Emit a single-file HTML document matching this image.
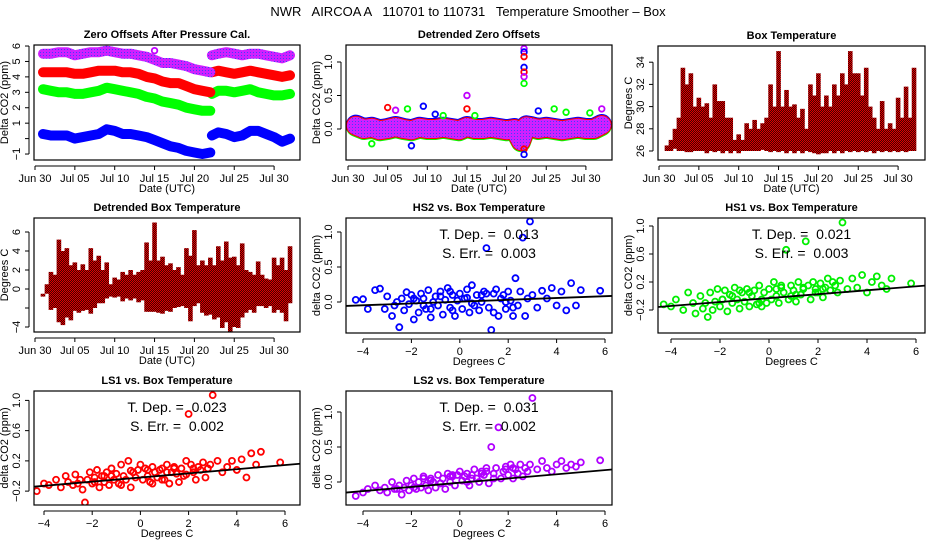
<!DOCTYPE html>
<html><head><meta charset="utf-8"><style>
html,body{margin:0;padding:0;background:#fff}
svg{display:block;font-family:"Liberation Sans",sans-serif}
text{white-space:pre}
</style></head><body>
<svg id="c" width="936" height="540" viewBox="0 0 936 540">
<defs>
<pattern id="redDots" width="2" height="2" patternUnits="userSpaceOnUse"><rect width="2" height="2" fill="#e00000"/><rect x="1" y="0" width="1" height="1" fill="#400"/><rect x="0" y="1" width="1" height="1" fill="#400"/></pattern>
<pattern id="purpDots" width="3" height="3" patternUnits="userSpaceOnUse"><rect width="3" height="3" fill="#d020ff"/><rect x="1" y="1" width="1" height="1" fill="#4040ff"/></pattern>
</defs>
<text x="468" y="16" font-size="13" text-anchor="middle" xml:space="preserve">NWR   AIRCOA A   110701 to 110731   Temperature Smoother – Box</text>
</svg>
<script>
// ---------- data ----------
const dayLabels = ["Jun 30","Jul 05","Jul 10","Jul 15","Jul 20","Jul 25","Jul 30"];
const dayTicks = [0,5,10,15,20,25,30];
const daysA = [1,2,3,4,5,6,7,8,9,10,11,12,13,14,15,16,17,18,19,20,21,22];
const daysB = [22.2,23,24,25,26,27,28,29,30,31,32];
const purpleA = [5.5,5.5,5.6,5.6,5.4,5.5,5.6,5.6,5.7,5.6,5.5,5.5,5.4,5.3,5.1,4.9,4.9,4.8,4.7,4.5,4.4,4.3];
const purpleB = [5.4,5.5,5.6,5.5,5.4,5.5,5.5,5.4,5.3,5.2,5.4];
const redA = [4.3,4.3,4.3,4.3,4.2,4.2,4.3,4.4,4.4,4.4,4.3,4.3,4.2,4.0,3.9,3.7,3.6,3.6,3.4,3.2,3.1,3.0];
const redB = [4.3,4.4,4.3,4.2,4.3,4.4,4.3,4.2,4.1,4.0,4.1];
const greenA = [3.2,3.1,3.0,3.0,2.9,2.9,3.0,3.1,3.3,3.2,3.1,3.0,2.9,2.7,2.6,2.4,2.3,2.2,2.0,1.9,1.8,1.8];
const greenB = [2.9,3.1,3.1,3.0,3.1,3.2,3.0,2.9,2.8,2.8,2.9];
const blueA = [0.3,0.2,0.2,0.2,0.0,0.1,0.2,0.3,0.6,0.5,0.3,0.3,0.2,0.1,-0.1,-0.3,-0.5,-0.6,-0.8,-0.9,-1.0,-0.9];
const blueB = [0.2,0.4,0.3,0.1,0.2,0.5,0.5,0.3,0.1,-0.2,0.0];

const detDays = [1,2,3,4,5,6,7,8,9,10,11,12,13,14,15,16,17,18,19,20,21,21.8,22.5,23,24,25,26,27,28,29,30,31,32];
const detPurple = [0.05,0.0,0.02,-0.02,0.0,0.03,0.0,-0.02,0.02,0.0,0.0,0.02,0.0,-0.02,0.03,0.0,0.0,0.02,0.0,-0.02,0.0,-0.18,0.04,0.03,0.0,0.02,0.0,-0.02,0.0,0.02,0.0,0.0,0.06];
const spikeVals = [1.2,1.15,1.08,0.92,0.85,0.78,0.68,-0.3,-0.38];
const spikeCols = ["#c000ff","#0000ff","#ff0000","#0000ff","#ff0000","#c000ff","#00ff00","#ff0000","#0000ff"];
const outDays = [5,6,7.5,9.5,11,12,15,15,16,24,26,27.5,30.5,32,3,8];
const outVals = [0.32,0.28,0.3,0.34,0.22,0.2,0.5,0.3,0.2,0.27,0.3,0.25,0.24,0.3,-0.22,-0.25];
const outCols = ["#ff0000","#c000ff","#00ff00","#0000ff","#0000ff","#00ff00","#c000ff","#ff0000","#00ff00","#0000ff","#00ff00","#00ff00","#00ff00","#c000ff","#00ff00","#0000ff"];

const halfDays = [1,1.5,2,2.5,3,3.5,4,4.5,5,5.5,6,6.5,7,7.5,8,8.5,9,9.5,10,10.5,11,11.5,12,12.5,13,13.5,14,14.5,15,15.5,16,16.5,17,17.5,18,18.5,19,19.5,20,20.5,21,21.5,22,22.5,23,23.5,24,24.5,25,25.5,26,26.5,27,27.5,28,28.5,29,29.5,30,30.5,31,31.5,32];
const boxMax = [26.5,27,28,29,33.5,32,33,30,30.8,30,30.3,29,32,30.5,30.5,29,29,27,27.5,27,28.5,28,28.8,28,28.5,29,32,30,35,30,31.5,30,30.2,29,29.8,28,32,31,33,30,31,30,32,31,33,32,35,33,33,31,33.5,30,29,28,30.5,28,28.5,28,30.8,29,31.8,29,33.5];
const boxMin = [26,26,26.2,26,26,25.9,25.9,26,26,26,25.8,26,25.9,26,25.8,26,25.8,26,25.8,26,26,26,26,26,26.1,26,25.9,26,25.9,26,25.8,26,25.8,26,25.8,26,25.9,25.8,25.7,25.8,25.8,26,25.8,26,25.8,26,25.9,26,25.9,26,25.9,26,25.8,26,25.9,26,25.9,26,25.9,26,25.9,26,26];
const detMax = [-0.5,0.5,1.8,1.5,5.2,4,4.3,2.5,2.8,2,2.6,2,4.3,3,3.5,2,2.8,0.5,1.2,1,1.8,1.5,2,1.5,1.8,2,4.9,3,7,3,3.4,2.5,2.7,2,2.3,1.5,4.3,3.5,6.2,2.5,3,2.5,3.3,2.5,4.5,3,5,3.3,3.4,2.5,4.8,2,1.8,1.5,2.9,1.5,1.1,1,3.3,2.5,3.3,2,4.5];
const detMin = [-0.8,-0.5,-2.2,-2,-3.5,-3.8,-3,-3.3,-2.3,-2.5,-2.3,-2.2,-2.6,-2,-1.5,-1.5,-1,-0.8,-0.9,-0.8,-1.3,-1,-1.2,-1,-1.4,-1.2,-2.4,-2.4,-2.4,-2.5,-2.6,-2.3,-2.4,-2,-1.9,-1.8,-2,-3.4,-1.8,-1.5,-2.5,-2.8,-2.7,-3.2,-3,-4.1,-3.5,-4.5,-4,-4.1,-3,-2.5,-2.2,-2.5,-1.8,-1.8,-2,-1.8,-2.5,-2.2,-2.5,-3.4,-1.5];

const tempX = [-4.3,-4.0,-3.8,-3.5,-3.3,-3.1,-3.0,-2.8,-2.7,-2.5,-2.4,-2.3,-2.2,-2.1,-2.0,-1.9,-1.8,-1.7,-1.6,-1.5,-1.4,-1.3,-1.2,-1.1,-1.0,-0.9,-0.8,-0.7,-0.6,-0.5,-0.4,-0.3,-0.2,-0.1,0.0,0.1,0.2,0.3,0.4,0.5,0.6,0.7,0.8,0.9,1.0,1.1,1.2,1.3,1.4,1.5,1.6,1.7,1.8,1.9,2.0,2.1,2.2,2.3,2.4,2.5,2.6,2.7,2.8,2.9,3.0,3.2,3.4,3.6,3.8,4.0,4.2,4.4,4.6,4.8,5.0,5.8,-2.6,-1.5,-0.8,-0.3,0.3,0.9,1.4,1.9,-1.9,-1.2,-0.4,0.5,1.1,2.2];
const hs2Y = [0.03,0.04,-0.1,0.17,0.19,-0.1,0.08,-0.2,-0.05,-0.36,0.05,-0.12,0.14,-0.03,0.1,-0.25,0.02,-0.15,0.12,0.05,-0.1,0.17,-0.22,0.0,0.08,-0.05,0.15,-0.18,0.03,0.2,-0.08,0.1,-0.2,0.02,0.12,-0.1,0.05,0.18,-0.15,0.24,-0.05,0.1,-0.12,0.0,0.15,0.77,-0.08,-0.4,0.12,0.18,-0.2,0.05,0.1,-0.1,0.15,0.02,-0.2,0.34,-0.05,0.15,0.92,-0.2,0.05,1.15,0.1,-0.08,0.16,0.05,0.2,-0.05,0.15,-0.12,0.27,-0.05,0.17,0.16,0.0,-0.05,0.08,-0.12,0.06,0.1,-0.15,0.0,0.05,-0.1,0.15,-0.02,0.12,-0.08];
const hs1Y = [-0.12,-0.15,-0.05,-0.2,0.05,-0.1,-0.25,0.0,-0.18,-0.3,0.05,-0.2,-0.08,0.1,-0.15,-0.05,0.08,-0.22,0.02,-0.1,0.12,-0.05,-0.18,0.05,-0.08,0.1,-0.15,0.0,0.08,-0.12,0.15,-0.05,0.05,-0.1,0.1,-0.05,0.2,0.0,-0.1,0.12,0.05,0.66,-0.05,0.15,0.08,-0.08,0.2,0.02,0.1,0.78,0.15,-0.05,0.2,0.1,0.05,0.18,-0.02,0.12,0.25,0.08,0.2,0.15,0.05,0.22,1.05,0.1,0.25,0.12,0.3,0.05,0.2,0.28,0.15,0.1,0.25,0.18,-0.1,0.0,0.05,-0.15,0.1,0.0,0.12,0.05,-0.05,0.08,-0.1,0.15,0.02,0.1];
const ls1Y = [-0.2,-0.1,-0.12,-0.05,-0.15,0.0,-0.08,-0.12,0.02,-0.05,-0.18,-0.35,-0.05,0.05,-0.1,-0.02,0.08,-0.15,0.0,-0.08,0.05,-0.12,0.1,-0.05,0.03,-0.1,0.15,0.0,-0.05,0.2,-0.15,0.05,-0.02,0.08,0.15,-0.05,0.1,0.0,-0.08,0.12,0.05,-0.02,0.08,0.1,-0.05,0.15,-0.1,0.05,0.12,0.03,-0.08,0.1,0.0,0.2,0.82,0.15,0.05,-0.05,0.12,0.08,0.18,-0.02,0.1,0.15,1.07,0.2,0.05,0.12,0.2,0.08,0.22,-0.02,0.3,0.15,0.32,0.18,-0.1,0.0,-0.12,0.05,0.08,-0.05,0.1,0.02,-0.08,0.0,0.07,-0.1,0.05,0.1];
const ls2Y = [-0.2,-0.15,-0.1,-0.05,-0.12,-0.08,-0.15,0.0,-0.1,-0.05,-0.18,-0.08,0.02,-0.12,-0.05,0.05,-0.1,0.0,-0.08,0.08,-0.05,-0.12,0.05,0.0,-0.08,0.1,-0.02,0.05,-0.1,0.12,0.0,0.08,-0.05,0.1,0.15,0.02,0.08,0.12,-0.05,0.1,0.18,0.05,0.0,0.15,0.1,0.2,-0.02,0.5,0.12,0.2,0.78,0.05,0.15,0.22,0.1,0.25,0.05,0.18,0.12,0.25,0.08,0.2,0.15,0.25,1.2,0.18,0.3,0.2,0.15,0.25,0.3,0.2,0.25,0.22,0.28,0.31,-0.1,0.05,-0.02,0.1,0.0,0.12,0.05,0.18,-0.08,0.02,0.08,0.05,0.15,0.2];
const fitHS2 = [0.005,0.013];
const fitHS1 = [-0.03,0.028];
const fitLS1 = [-0.02,0.0275];
const fitLS2 = [-0.01,0.03];
const tdepText = ["0.013","0.021","0.023","0.031"];
const serrText = ["0.003","0.003","0.002","0.002"];

// ---------- drawing ----------
const svg = document.getElementById('c');
const NS = 'http://www.w3.org/2000/svg';
function mk(tag, attrs, parent){
  const e = document.createElementNS(NS, tag);
  for (const k in attrs) e.setAttribute(k, attrs[k]);
  (parent||svg).appendChild(e);
  return e;
}
function txt(x,y,s,size,parent,anchor,rot,bold){
  const t = mk('text',{x:x,y:y,'font-size':size,'text-anchor':anchor||'middle'},parent);
  if(rot) t.setAttribute('transform','rotate(-90 '+x+' '+y+')');
  if(bold) t.setAttribute('font-weight','bold');
  t.textContent = s;
  return t;
}
function panel(name, box, xa, ya, title, xtitle, ytitle, xt, xl, yt, yl){
  const g = mk('g',{});
  
  
  const sx = v => xa[0] + (v - xa[1]) * xa[2];
  const sy = v => ya[0] - (v - ya[1]) * ya[2];
  const clipId = 'clip-' + name;
  const cp = mk('clipPath',{id:clipId},g);
  mk('rect',{x:box[0],y:box[1],width:box[2]-box[0],height:box[3]-box[1]},cp);
  const plot = mk('g',{'clip-path':'url(#'+clipId+')'},g);
  
  
  const fr = mk('rect',{x:box[0],y:box[1],width:box[2]-box[0],height:box[3]-box[1],fill:'none',stroke:'#000','stroke-width':1.2},g);
  
  
  const ax = mk('g',{},g);
  
  
  const xb = box[3] + 6;
  mk('line',{x1:sx(xt[0]),x2:sx(xt[xt.length-1]),y1:xb,y2:xb,stroke:'#000'},ax);
  xt.forEach((v,i)=>{
    mk('line',{x1:sx(v),x2:sx(v),y1:xb,y2:xb+4,stroke:'#000'},ax);
    txt(sx(v), xb+16, xl[i], 11, ax);
  });
  const yax = mk('g',{},g);
  
  
  const yb = box[0] - 5;
  mk('line',{x1:yb,x2:yb,y1:sy(yt[0]),y2:sy(yt[yt.length-1]),stroke:'#000'},yax);
  yt.forEach((v,i)=>{
    mk('line',{x1:yb,x2:yb-4,y1:sy(v),y2:sy(v),stroke:'#000'},yax);
    txt(yb-9, sy(v), yl[i], 11, yax, 'middle', true);
  });
  const tt = txt((box[0]+box[2])/2, box[1]-7, title, 11, g, 'middle', false, true);
  
  
  const xT = txt((box[0]+box[2])/2, box[3]+32, xtitle, 11, g);
  
  
  const yT = txt(box[0]-26, (box[1]+box[3])/2, ytitle, 11, g, 'middle', true);
  
  
  return {plot, sx, sy, box};
}
function band(p, xs, ys, color, w, name){
  const d = xs.map((x,i)=>(i?'L':'M')+p.sx(x).toFixed(1)+','+p.sy(ys[i]).toFixed(1)).join('');
  const e = mk('path',{d:d,fill:'none',stroke:color,'stroke-width':w,'stroke-linejoin':'round','stroke-linecap':'round'},p.plot);
  
  
}
function pt(p, x, y, color, name, r){
  const c = mk('circle',{cx:p.sx(x),cy:p.sy(y),r:r||2.8,fill:'none',stroke:color,'stroke-width':1.8},p.plot);
  
  
}
const timeXl = dayLabels;

// Panel 1
const p1 = panel('zero-offsets-panel',[34,45,300,160],[35,0,7.97],[138.6,0,15.43],'Zero Offsets After Pressure Cal.','Date (UTC)','Delta CO2 (ppm)',dayTicks,timeXl,[-1,0,1,2,3,4,5,6],['\u22121','','1','2','3','4','5','6']);
[[blueA,blueB,'#0000ff','blue'],[greenA,greenB,'#00ff00','green'],[redA,redB,'#ff0000','red'],[purpleA,purpleB,'url(#purpDots)','purple']].forEach(s=>{
  band(p1, daysA, s[0], s[2], 10, 'series-'+s[3]+'-before-gap');
  band(p1, daysB, s[1], s[2], 10, 'series-'+s[3]+'-after-gap');
});
pt(p1, 15, 5.7, '#c000ff', 'outlier-purple');

// Panel 2
const p2 = panel('detrended-zero-offsets-panel',[346,45,612,160],[348,0,7.93],[129,0,67],'Detrended Zero Offsets','Date (UTC)','Delta CO2 (ppm)',dayTicks,timeXl,[0,0.5,1.0],['0.0','0.5','1.0']);
band(p2, detDays, detPurple.map(v=>v-0.015), '#00ff00', 20, 'detrended-green');
band(p2, detDays, detPurple.map(v=>v+0.015), '#0000ff', 20, 'detrended-blue');
band(p2, detDays, detPurple, '#ff0000', 20, 'detrended-red');
band(p2, detDays, detPurple, 'url(#purpDots)', 18, 'detrended-purple');
outDays.forEach((d,i)=>pt(p2, d, outVals[i], outCols[i], 'detrended-outlier'));
spikeVals.forEach((v,i)=>pt(p2, 22.2, v, spikeCols[i], 'detrended-spike-point'));

// Panel 3
const p3 = panel('box-temperature-panel',[658,46,925,160],[659,0,7.97],[151,26,11.1],'Box Temperature','Date (UTC)','Degrees C',dayTicks,timeXl,[26,28,30,32,34],['26','28','30','32','34']);
halfDays.forEach((d,i)=>{
  const r = mk('rect',{x:p3.sx(d)-2.3,y:p3.sy(boxMax[i]),width:4.6,height:p3.sy(boxMin[i])-p3.sy(boxMax[i]),fill:'url(#redDots)'},p3.plot);
  
  
});

// Panel 4
const p4 = panel('detrended-box-temperature-panel',[34,218,300,332],[35,0,7.97],[289,0,9.5],'Detrended Box Temperature','Date (UTC)','Degrees C',dayTicks,timeXl,[-4,-2,0,2,4,6],['\u22124','','0','2','4','6']);
halfDays.forEach((d,i)=>{
  const r = mk('rect',{x:p4.sx(d)-2.3,y:p4.sy(detMax[i]),width:4.6,height:p4.sy(detMin[i])-p4.sy(detMax[i]),fill:'url(#redDots)'},p4.plot);
  
  
});

// Scatter panels
function scatter(name, box, xa, ya, title, ys, fit, color, yt, yl, idx){
  const p = panel(name, box, xa, ya, title, 'Degrees C', 'delta CO2 (ppm)', [-4,-2,0,2,4,6], ['\u22124','\u22122','0','2','4','6'], yt, yl);
  const n = Math.min(tempX.length, ys.length);
  for (let i=0;i<n;i++) pt(p, tempX[i], ys[i], color, name+'-point', 3);
  const x0 = -6, x1 = 9;
  const ln = mk('line',{x1:p.sx(x0),y1:p.sy(fit[0]+fit[1]*x0),x2:p.sx(x1),y2:p.sy(fit[0]+fit[1]*x1),stroke:'#000','stroke-width':1.8},p.plot);
  
  
  const cx = (box[0]+box[2])/2 + 10;
  const a = txt(cx, box[1]+21, 'T. Dep. =  '+tdepText[idx], 14, p.plot);
  
  
  const b = txt(cx, box[1]+40, 'S. Err. =  '+serrText[idx], 14, p.plot);
  
  
}
scatter('hs2-panel',[346,218,612,333],[363,-4,24.2],[302,0,70],'HS2 vs. Box Temperature',hs2Y,fitHS2,'#0000ff',[0,0.5,1.0],['0.0','0.5','1.0'],0);
scatter('hs1-panel',[658,218,925,333],[671,-4,24.5],[296,0,70],'HS1 vs. Box Temperature',hs1Y,fitHS1,'#00ee00',[-0.2,0.2,0.6,1.0],['\u22120.2','0.2','0.6','1.0'],1);
scatter('ls1-panel',[34,391,300,505],[44,-4,24.1],[476,0,75.6],'LS1 vs. Box Temperature',ls1Y,fitLS1,'#ff0000',[-0.2,0.2,0.6,1.0],['\u22120.2','0.2','0.6','1.0'],2);
scatter('ls2-panel',[346,391,612,505],[363,-4,24.2],[482,0,70],'LS2 vs. Box Temperature',ls2Y,fitLS2,'#b000ff',[0,0.5,1.0],['0.0','0.5','1.0'],3);
</script>
</body></html>
